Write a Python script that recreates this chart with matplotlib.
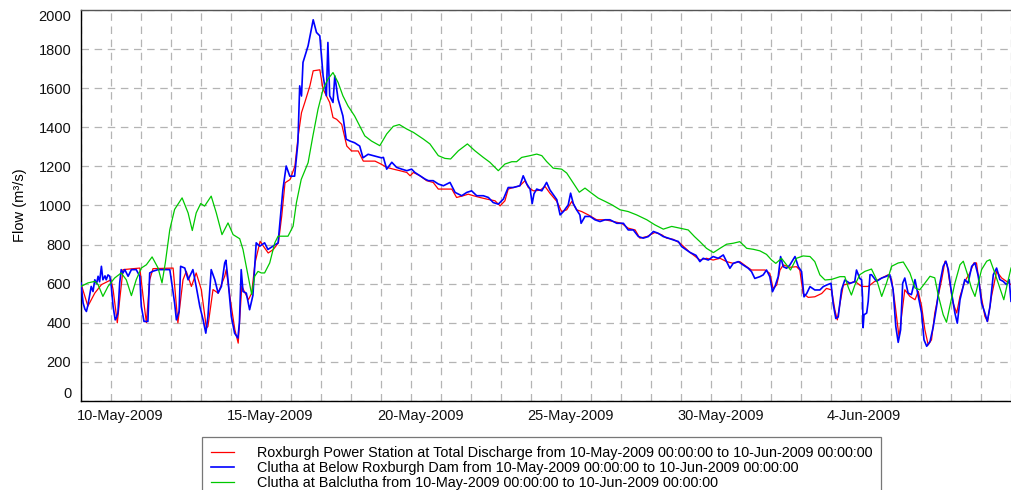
import numpy as np
import pandas as pd
import matplotlib
matplotlib.use("Agg")
import matplotlib.pyplot as plt
import matplotlib.dates as mdates
import matplotlib.transforms as mtransforms

plt.rcParams['font.family'] = ['Liberation Sans', 'DejaVu Sans']

start_date = "2009-05-10"
end_date = "2009-06-10"

# ---- Roxburgh Power Station (red): time in days since start, flow m3/s
red_days = [0, 0.23, 0.46, 0.68, 0.9, 1.0, 1.07, 1.21, 1.29, 1.4, 1.96, 2.07, 2.18, 2.29, 2.4, 3.07,
            3.23, 3.4, 3.51, 3.68, 3.84, 4.01, 4.18, 4.23, 4.4, 4.57, 4.79, 4.84, 5.01, 5.13, 5.24,
            5.36, 5.47, 5.58, 5.69, 5.8, 5.97, 6.08, 6.24, 6.41, 6.58, 6.69, 6.8, 6.97, 7.13, 7.24,
            7.35, 7.46, 7.63, 7.74, 7.96, 8.07, 8.18, 8.29, 8.4, 8.52, 8.69, 8.86, 9.02, 9.24, 9.41,
            9.58, 9.8, 10.0, 10.19, 10.41, 10.63, 10.86, 10.97, 11.08, 11.3, 11.52, 11.74, 11.91,
            12.13, 12.36, 12.52, 12.74, 12.91, 13.08, 13.3, 13.52, 13.8, 13.97, 14.13, 14.24, 14.41,
            14.63, 14.8, 14.91, 15.08, 15.3, 15.47, 15.63, 15.86, 16.02, 16.19, 16.36, 16.52, 16.69,
            16.91, 17.19, 17.47, 17.74, 18.02, 18.24, 18.47, 18.63, 18.86, 19.13, 19.36, 19.52,
            19.74, 19.97, 20.3, 20.63, 20.85, 21.07, 21.3, 21.52, 21.74, 21.96, 22.19, 22.35, 22.57,
            22.8, 22.96, 23.07, 23.19, 23.3, 23.41, 23.63, 23.85, 23.96, 24.07, 24.24, 24.46, 24.69,
            24.85, 25.02, 25.13, 25.21, 25.3, 25.41, 25.63, 25.8, 26.02, 26.24, 26.46, 26.69, 26.91,
            27.02, 27.13, 27.27, 27.35, 27.46, 27.63, 27.8, 27.91, 28.02, 28.13, 28.24, 28.35, 28.46,
            28.57, 28.69, 28.8, 28.87, 28.96, 29.07, 29.19, 29.3, 29.46, 29.63, 29.76, 29.85, 29.99,
            30.13, 30.22, 30.35, 30.52, 30.69, 30.85, 31.0]
red_vals = [600, 485, 552, 595, 612, 620, 570, 400, 518, 672, 680, 535, 400, 620, 677, 680,
            400, 620, 663, 586, 655, 570, 373, 381, 570, 552, 638, 672, 484, 364, 296,
            587, 552, 518, 552, 706, 817, 792, 757, 775, 809, 945, 1116, 1133, 1202, 1356,
            1475, 1527, 1612, 1689, 1694, 1595, 1561, 1527, 1450, 1441, 1415, 1304, 1279, 1279, 1227,
            1227, 1227, 1212, 1195, 1186, 1178, 1169, 1152, 1169, 1152, 1127, 1118, 1084,
            1084, 1084, 1041, 1050, 1058, 1050, 1041, 1033, 1024, 998, 1024, 1084, 1092,
            1101, 1127, 1092, 1075, 1078, 1097, 1063, 1021, 969, 978, 1021, 978, 969,
            952, 927, 927, 918, 909, 884, 875, 833, 841, 862, 850, 833,
            827, 807, 760, 721, 730, 721, 730, 713, 704, 713, 687, 670, 670,
            670, 653, 576, 593, 670, 696, 684, 687, 670, 550, 530, 533, 550,
            576, 568, 465, 415, 499, 593, 602, 612, 586, 586, 612, 629, 646,
            621, 501, 325, 433, 569, 535, 518, 561, 484, 364, 287, 313, 450,
            535, 621, 715, 697, 603, 501, 450, 535, 612, 655, 706, 706, 552,
            433, 407, 535, 663, 629, 612, 595]

# ---- Clutha at Below Roxburgh Dam (blue)
blue_days = [0, 0.03, 0.07, 0.13, 0.18, 0.23, 0.34, 0.4, 0.46, 0.52, 0.57, 0.62, 0.68, 0.73, 0.8,
             0.84, 0.9, 0.96, 1.01, 1.07, 1.14, 1.19, 1.23, 1.29, 1.34, 1.4, 1.46, 1.57, 1.68, 1.84,
             1.96, 2.01, 2.1, 2.23, 2.29, 2.4, 2.57, 2.79, 2.96, 3.01, 3.12, 3.18, 3.27, 3.32, 3.46,
             3.57, 3.73, 3.84, 3.96, 4.07, 4.16, 4.23, 4.34, 4.46, 4.57, 4.68, 4.79, 4.83, 4.9, 5.01,
             5.12, 5.23, 5.28, 5.34, 5.4, 5.51, 5.62, 5.73, 5.84, 5.96, 6.12, 6.23, 6.4, 6.57, 6.73,
             6.84, 6.96, 7.12, 7.23, 7.29, 7.35, 7.4, 7.57, 7.68, 7.74, 7.85, 7.96, 8.07, 8.18, 8.23,
             8.29, 8.4, 8.46, 8.57, 8.73, 8.84, 8.96, 9.12, 9.29, 9.4, 9.57, 9.79, 10.01, 10.08,
             10.19, 10.36, 10.52, 10.69, 10.86, 11.02, 11.13, 11.3, 11.47, 11.58, 11.74, 11.91,
             12.08, 12.3, 12.47, 12.69, 12.86, 13.02, 13.19, 13.41, 13.58, 13.74, 13.91, 14.08,
             14.24, 14.41, 14.63, 14.74, 14.86, 14.97, 15.04, 15.1, 15.19, 15.36, 15.52, 15.63,
             15.86, 15.97, 16.08, 16.24, 16.32, 16.41, 16.52, 16.63, 16.67, 16.8, 16.97, 17.13,
             17.3, 17.47, 17.63, 17.86, 18.08, 18.24, 18.41, 18.58, 18.74, 18.91, 19.08, 19.24,
             19.41, 19.58, 19.74, 19.91, 20.02, 20.3, 20.5, 20.63, 20.74, 20.91, 21.07, 21.24,
             21.41, 21.52, 21.63, 21.74, 21.91, 22.07, 22.24, 22.35, 22.46, 22.63, 22.74, 22.85,
             22.96, 23.05, 23.13, 23.24, 23.32, 23.41, 23.52, 23.63, 23.8, 23.91, 24.02, 24.1,
             24.19, 24.3, 24.46, 24.63, 24.74, 24.85, 25.0, 25.07, 25.16, 25.24, 25.35, 25.46,
             25.63, 25.79, 25.85, 25.96, 26.02, 26.05, 26.07, 26.1, 26.19, 26.24, 26.3, 26.35,
             26.52, 26.69, 26.85, 26.96, 27.07, 27.16, 27.24, 27.32, 27.39, 27.46, 27.57, 27.68,
             27.8, 27.91, 28.02, 28.1, 28.19, 28.3, 28.41, 28.52, 28.63, 28.74, 28.83, 28.91,
             29.02, 29.13, 29.21, 29.3, 29.46, 29.57, 29.69, 29.8, 29.91, 30.02, 30.13, 30.21,
             30.3, 30.41, 30.52, 30.63, 30.74, 30.85, 30.94, 31.0]
blue_vals = [604, 560, 501, 470, 458, 490, 586, 560, 620, 600, 638, 610, 689, 620, 640,
             620, 645, 638, 586, 484, 415, 430, 450, 604, 672, 655, 672, 638, 672, 672,
             638, 484, 407, 407, 655, 664, 672, 672, 672, 620, 501, 415, 458, 689, 680,
             620, 672, 586, 484, 415, 347, 430, 672, 620, 552, 586, 706, 720, 620, 433,
             347, 322, 400, 672, 560, 552, 467, 540, 809, 792, 809, 775, 792, 809, 1082,
             1202, 1150, 1150, 1321, 1612, 1560, 1732, 1817, 1903, 1950, 1885, 1868, 1663, 1561, 1834,
             1561, 1527, 1663, 1544, 1458, 1339, 1330, 1321, 1304, 1244, 1262, 1253, 1244, 1246,
             1186, 1221, 1195, 1186, 1178, 1186, 1169, 1152, 1135, 1127, 1127, 1110,
             1101, 1118, 1067, 1050, 1067, 1075, 1050, 1050, 1041, 1015, 1007, 1033,
             1092, 1092, 1101, 1152, 1110, 1084, 1010, 1060, 1084, 1075, 1118, 1080,
             1030, 952, 969, 1003, 1063, 1010, 978, 952, 909, 944, 944, 927,
             918, 927, 927, 909, 909, 875, 875, 841, 833, 841, 867, 858,
             841, 833, 824, 816, 790, 760, 745, 713, 730, 721, 739, 730,
             747, 713, 679, 704, 713, 696, 679, 662, 627, 636, 645, 670,
             636, 559, 585, 636, 739, 687, 679, 696, 739, 687, 662, 533,
             550, 585, 568, 568, 585, 593, 602, 499, 422, 430, 568, 619,
             602, 610, 670, 627, 620, 535, 375, 441, 450, 510, 646, 646,
             612, 629, 638, 646, 570, 381, 300, 364, 603, 629, 552, 544,
             621, 535, 450, 313, 280, 304, 381, 484, 603, 689, 715, 672,
             552, 450, 398, 518, 621, 603, 689, 706, 638, 501, 450, 407,
             484, 646, 680, 621, 612, 595, 621, 510]

# ---- Clutha at Balclutha (green)
green_days = [0, 0.23, 0.46, 0.57, 0.73, 0.9, 1.12, 1.34, 1.51, 1.68, 1.84, 2.01, 2.18, 2.37, 2.57,
              2.7, 2.81, 2.96, 3.12, 3.37, 3.57, 3.71, 3.84, 3.99, 4.12, 4.34, 4.51, 4.7, 4.9, 5.07,
              5.29, 5.4, 5.57, 5.69, 5.79, 5.9, 6.01, 6.12, 6.29, 6.46, 6.57, 6.9, 7.07, 7.18, 7.34,
              7.57, 7.73, 7.9, 8.07, 8.23, 8.4, 8.57, 8.73, 8.9, 9.12, 9.29, 9.46, 9.68, 9.96, 10.19,
              10.41, 10.61, 10.86, 11.08, 11.41, 11.63, 11.91, 12.13, 12.32, 12.58, 12.88, 13.13,
              13.41, 13.63, 13.91, 14.13, 14.36, 14.52, 14.69, 14.97, 15.19, 15.36, 15.52, 15.74,
              16.02, 16.19, 16.41, 16.61, 16.8, 17.02, 17.24, 17.47, 17.69, 17.97, 18.24, 18.52,
              18.86, 19.13, 19.41, 19.69, 19.97, 20.24, 20.45, 20.63, 20.85, 21.08, 21.3, 21.52,
              21.74, 21.96, 22.19, 22.41, 22.63, 22.85, 23.02, 23.16, 23.35, 23.52, 23.65, 23.85,
              24.07, 24.3, 24.46, 24.63, 24.8, 25.02, 25.3, 25.46, 25.58, 25.68, 25.8, 25.96,
              26.13, 26.35, 26.52, 26.69, 26.85, 27.02, 27.24, 27.41, 27.63, 27.8, 27.96, 28.13,
              28.3, 28.46, 28.57, 28.74, 28.85, 28.96, 29.13, 29.3, 29.41, 29.57, 29.68, 29.8,
              29.91, 30.02, 30.19, 30.3, 30.46, 30.63, 30.76, 30.91, 31.0]
green_vals = [586, 604, 612, 595, 535, 586, 629, 655, 620, 539, 620, 680, 697, 737, 680,
              604, 706, 877, 980, 1039, 962, 872, 962, 1010, 997, 1048, 962, 851, 911, 851,
              830, 775, 638, 544, 638, 663, 655, 655, 706, 809, 843, 843, 894, 1014, 1133,
              1219, 1356, 1492, 1595, 1646, 1680, 1629, 1561, 1509, 1458, 1407, 1356, 1330, 1306, 1366,
              1405, 1414, 1391, 1374, 1340, 1315, 1255, 1241, 1238, 1280, 1315, 1280,
              1246, 1221, 1178, 1212, 1224, 1224, 1246, 1255, 1263, 1255, 1225, 1191,
              1186, 1166, 1115, 1068, 1089, 1063, 1038, 1021, 1004, 978, 969, 952,
              927, 901, 879, 893, 884, 875, 841, 815, 781, 759, 781, 802,
              807, 815, 781, 776, 768, 750, 721, 704, 730, 696, 670, 730,
              742, 739, 713, 645, 619, 622, 636, 636, 580, 542, 595, 646,
              663, 675, 621, 535, 603, 689, 706, 711, 655, 578, 569, 603,
              638, 630, 544, 441, 403, 484, 603, 697, 715, 638, 578, 535,
              603, 672, 715, 723, 655, 578, 518, 621, 680]

series_names = [
    "Roxburgh Power Station at Total Discharge from 10-May-2009 00:00:00 to 10-Jun-2009 00:00:00",
    "Clutha at Below Roxburgh Dam from 10-May-2009 00:00:00 to 10-Jun-2009 00:00:00",
    "Clutha at Balclutha from 10-May-2009 00:00:00 to 10-Jun-2009 00:00:00",
]
tick_labels = ["10-May-2009", "15-May-2009", "20-May-2009", "25-May-2009", "30-May-2009", "4-Jun-2009"]
y_ticks = [0, 200, 400, 600, 800, 1000, 1200, 1400, 1600, 1800, 2000]


def to_dates(days):
    t = pd.Timestamp(start_date) + pd.to_timedelta(np.asarray(days, dtype=float), unit="D")
    return mdates.date2num(t.to_pydatetime())


fig = plt.figure(figsize=(10.12, 4.90), dpi=100)
ax = fig.add_axes([81 / 1012, 1 - 401 / 490, 930 / 1012, 391 / 490])

ax.plot(to_dates(red_days), red_vals, color="#ff0000", lw=0.9, label=series_names[0], zorder=3)
ax.plot(to_dates(blue_days), blue_vals, color="#0000ff", lw=1.2, label=series_names[1], zorder=4)
ax.plot(to_dates(green_days), green_vals, color="#00c800", lw=0.9, label=series_names[2], zorder=5)

x0 = mdates.date2num(pd.Timestamp(start_date).to_pydatetime())
x1 = mdates.date2num(pd.Timestamp(end_date).to_pydatetime())
ax.set_xlim(x0, x1)
ax.set_ylim(0, 2000)

# grid every day, labels every 5 days
ax.xaxis.set_minor_locator(mdates.DayLocator())
tick_pos = mdates.date2num(pd.to_datetime(tick_labels, format="%d-%b-%Y").to_pydatetime())
ax.set_xticks(tick_pos, tick_labels)
ax.set_yticks(y_ticks, [str(v) for v in y_ticks])

grid_kw = dict(color="#b4b4b4", lw=0.9, dashes=(6, 4.5))
ax.grid(True, which="both", axis="x", **grid_kw)
ax.grid(True, which="major", axis="y", **grid_kw)
ax.set_axisbelow(True)

ax.tick_params(axis="both", which="both", length=0, labelsize=10.5, colors="#111111")
ax.tick_params(axis="y", pad=7)
ax.tick_params(axis="x", pad=6)
offset = mtransforms.ScaledTranslation(-4 / 100, 0, fig.dpi_scale_trans)
for lab in ax.get_xticklabels():
    lab.set_ha("left")
    lab.set_transform(lab.get_transform() + offset)
ylabs = ax.get_yticklabels()
ylabs[0].set_va("bottom")
ylabs[-1].set_va("top")

ax.set_ylabel("Flow (m\u00b3/s)", fontsize=10.5, labelpad=8)

for s in ["left", "bottom"]:
    ax.spines[s].set_color("black")
    ax.spines[s].set_linewidth(1.0)
ax.spines["top"].set_color("#555555")
ax.spines["top"].set_linewidth(1.0)
ax.spines["right"].set_visible(False)

leg = fig.legend(loc="upper left", bbox_to_anchor=(202 / 1012, 1 - 437 / 490),
                 bbox_transform=fig.transFigure, fontsize=10.35, frameon=True, fancybox=False,
                 edgecolor="#555555", handlelength=1.6, handletextpad=1.6, labelspacing=0.08,
                 borderpad=0.6, borderaxespad=0)
leg.get_frame().set_linewidth(0.9)

fig.savefig("out.png", dpi=100)
